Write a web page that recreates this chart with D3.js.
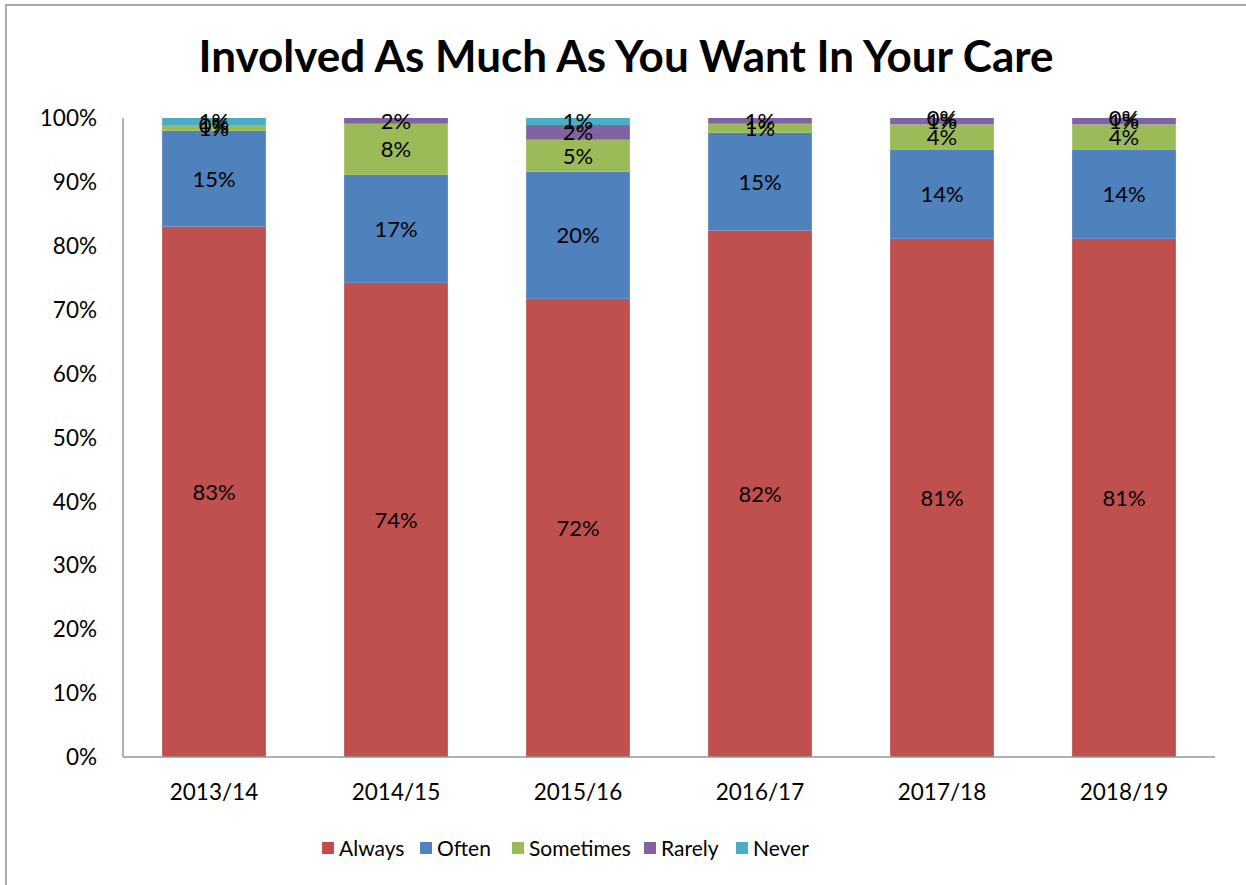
<!DOCTYPE html>
<html>
<head>
<meta charset="utf-8">
<script src="https://cdn.jsdelivr.net/npm/d3@7"></script>
<style>
  body { margin: 0; background: #fff; }
  svg { display: block; font-family: Lato, "Open Sans", sans-serif; }
</style>
</head>
<body>
<div id="main"></div>
<script>
// survey years and answer shares (percent)
const years = ['2013/14', '2014/15', '2015/16', '2016/17', '2017/18', '2018/19']
const answers = ['Always', 'Often', 'Sometimes', 'Rarely', 'Never']
const always    = [83.0, 74.2, 71.7, 82.4, 81.1, 81.1]
const often     = [15.0, 16.9, 19.9, 15.3, 13.9, 13.9]
const sometimes = [0.9, 8.0, 5.0, 1.4, 4.0, 4.0]
const rarely    = [0.0, 1.5, 2.3, 0.9, 1.0, 1.0]
const never     = [1.1, null, 1.1, null, 0.0, 0.0]
const yTicks = [0, 10, 20, 30, 40, 50, 60, 70, 80, 90, 100]
const colors = ['#C0504D', '#4F81BD', '#9BBB59', '#8064A2', '#4BACC6']

const W = 1246, H = 885
const plot = { left: 123, right: 1215, top: 118, bottom: 757 }

const svg = d3.select('#main').append('svg').attr('width', W).attr('height', H)

// chart frame (runs off the right and bottom edges like the original)
svg.append('rect').attr('x', 6).attr('y', 5).attr('width', W + 20).attr('height', H + 20)
  .attr('fill', '#fff').attr('stroke', '#8c8c8c').attr('stroke-width', 1.5)

svg.append('text').attr('x', 626).attr('y', 72).attr('text-anchor', 'middle')
  .attr('font-size', 44).attr('font-weight', 'bold').attr('fill', '#000')
  .text('Involved As Much As You Want In Your Care')

const x = d3.scaleBand().domain(years).range([plot.left, plot.right]).paddingInner(0.43).paddingOuter(0.215)
const y = d3.scaleLinear().domain([0, 100]).range([plot.bottom, plot.top]).clamp(true)

const series = [always, often, sometimes, rarely, never]
const table = years.map((yr, i) => {
  const row = { year: yr }
  answers.forEach((a, k) => { row[a] = series[k][i] })
  return row
})
const stacked = d3.stack().keys(answers).value((d, k) => d[k] || 0)(table)

const layers = svg.append('g').selectAll('g').data(stacked).join('g')
  .attr('fill', (d, k) => colors[k])

layers.selectAll('rect').data(d => d).join('rect')
  .attr('x', d => x(d.data.year))
  .attr('width', x.bandwidth())
  .attr('y', d => y(d[1]))
  .attr('height', d => y(d[0]) - y(d[1]))

// data labels, centred on the visible part of each segment
const labels = svg.append('g')
stacked.forEach((layer, k) => {
  layer.forEach(d => {
    const v = d.data[layer.key]
    if (v === null || v === undefined) return
    labels.append('text')
      .attr('x', x(d.data.year) + x.bandwidth() / 2)
      .attr('y', (y(d[0]) + y(d[1])) / 2)
      .attr('dy', '0.36em')
      .attr('text-anchor', 'middle')
      .attr('font-size', 22)
      .attr('fill', '#000')
      .text(Math.round(v) + '%')
  })
})

// axes
const axisColor = '#969696'
svg.append('line').attr('x1', plot.left).attr('x2', plot.left).attr('y1', plot.top).attr('y2', plot.bottom)
  .attr('stroke', axisColor).attr('stroke-width', 1.5)
svg.append('line').attr('x1', plot.left).attr('x2', plot.right).attr('y1', plot.bottom).attr('y2', plot.bottom)
  .attr('stroke', axisColor).attr('stroke-width', 1.5)

svg.append('g').selectAll('text').data(yTicks).join('text')
  .attr('x', 97).attr('y', d => y(d)).attr('dy', '0.36em')
  .attr('text-anchor', 'end').attr('font-size', 22.5).attr('fill', '#000')
  .text(d => d + '%')

svg.append('g').selectAll('text').data(years).join('text')
  .attr('x', d => x(d) + x.bandwidth() / 2).attr('y', 800)
  .attr('text-anchor', 'middle').attr('font-size', 22.5).attr('fill', '#000')
  .text(d => d)

// legend
const legendX = [322, 420, 512, 644, 736]
const legend = svg.append('g').selectAll('g').data(answers).join('g')
  .attr('transform', (d, k) => 'translate(' + legendX[k] + ',842)')
legend.append('rect').attr('width', 12).attr('height', 12).attr('fill', (d, k) => colors[k])
legend.append('text').attr('x', 17).attr('y', 6).attr('dy', '0.36em')
  .attr('font-size', 21).attr('fill', '#000').text(d => d)
</script>
</body>
</html>
